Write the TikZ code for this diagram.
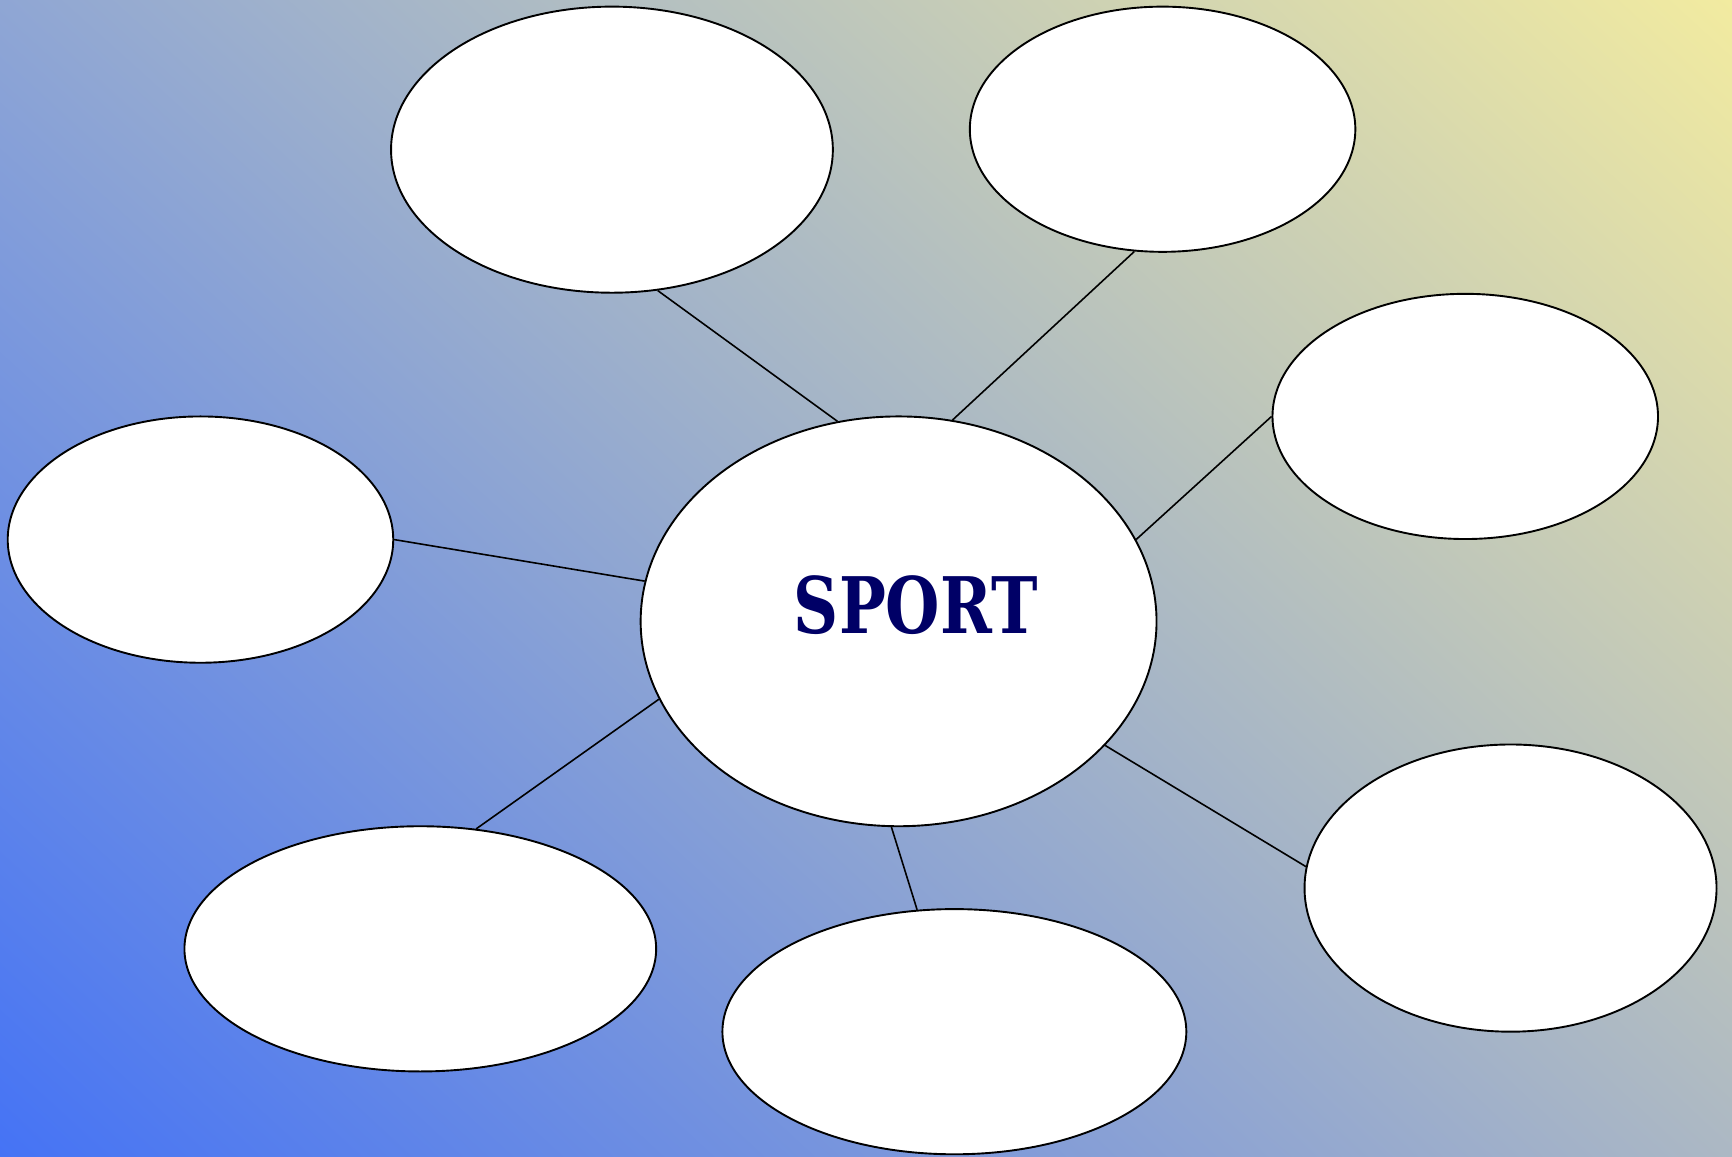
\documentclass[tikz,border=0pt]{standalone}
\usepackage{fontspec}
\newfontfamily\titlefont{DejaVu Serif}
\usetikzlibrary{shapes.geometric,shadings}
\definecolor{bgll}{RGB}{69,115,245}
\definecolor{bgur}{RGB}{242,235,160}
\definecolor{bgul}{RGB}{143,166,212}
\definecolor{bglr}{RGB}{172,184,196}
\definecolor{titleblue}{RGB}{0,0,102}
\tikzset{
  bubble/.style={ellipse, draw=black, fill=white, line width=1.9pt, inner sep=0pt},
  link/.style={draw=black, line width=1.6pt}
}
\begin{document}
\begin{tikzpicture}[x=1.1046pt,y=-1.1046pt]
\useasboundingbox (0,0) rectangle (1568,1047.4);
\shade[lower left=bgll, upper right=bgur, upper left=bgul, lower right=bglr] (0,0) rectangle (1568,1047.4);
\node[bubble, minimum width=515.9pt, minimum height=409.8pt] (c) at (813.5,562.5) {};
\node[bubble, minimum width=441.8pt, minimum height=286.1pt] (tl) at (554,135.5) {};
\node[bubble, minimum width=385.5pt, minimum height=245.2pt] (tr) at (1052.5,117) {};
\node[bubble, minimum width=385.5pt, minimum height=245.2pt] (r) at (1326.5,377) {};
\node[bubble, minimum width=385.5pt, minimum height=246.3pt] (l) at (181.5,488.5) {};
\node[bubble, minimum width=471.7pt, minimum height=245.2pt] (bl) at (380.5,859) {};
\node[bubble, minimum width=463.9pt, minimum height=245.2pt] (b) at (864,934) {};
\node[bubble, minimum width=412.0pt, minimum height=287.2pt] (br) at (1367.5,804) {};
\node[text=titleblue, inner sep=0pt] (title) at (829,548)
  {\scalebox{0.8}[1]{\fontsize{78}{92}\selectfont\titlefont\bfseries SPORT}};
\draw[link] (tl.-72.8) -- (c.107.8);
\draw[link] (tr.-103.4) -- (c.75.6);
\draw[link] (r.180) -- (c.19.2);
\draw[link] (l.0) -- (c.171.1);
\draw[link] (bl.65.96) -- (c.198.7);
\draw[link] (c.-92) -- (b.107.5);
\draw[link] (c.-31.8) -- (br.174.2);
\end{tikzpicture}
\end{document}
